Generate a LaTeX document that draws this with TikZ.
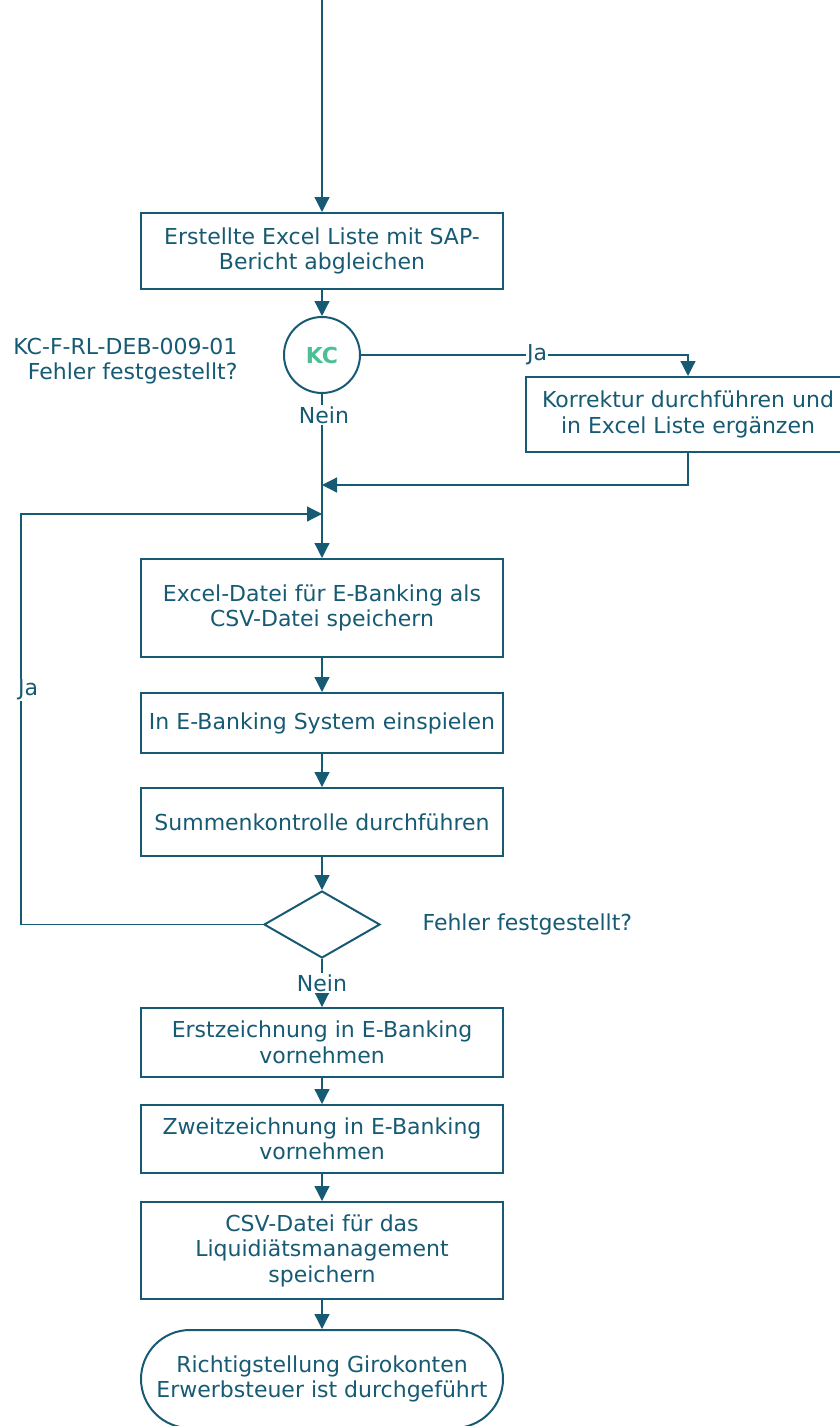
\documentclass[tikz,border=0pt]{standalone}
\usepackage{fontspec}
\setmainfont{DejaVu Sans}
\usetikzlibrary{arrows.meta,shapes.geometric}
\definecolor{ln}{HTML}{165A73}
\definecolor{kcg}{HTML}{4CBF94}
\tikzset{
  every node/.style={text=ln, font=\fontsize{22}{25.5}\selectfont},
  stepbox/.style={draw=ln, line width=2pt, minimum width=362pt, align=center, inner sep=0pt},
  conn/.style={draw=ln, line width=1.2pt},
  arr/.style={conn, -{Triangle[width=15pt,length=15pt]}},
  lbl/.style={fill=white, inner sep=1pt},
}
\begin{document}
\begin{tikzpicture}[x=1pt,y=-1pt]
\useasboundingbox (0,0) rectangle (840,1426);

\coordinate (top) at (322,0);
\node[stepbox, minimum height=76pt] (b1) at (322,251) {Erstellte Excel Liste mit SAP-\\Bericht abgleichen};
\node[draw=ln, line width=2pt, circle, minimum size=76pt, inner sep=0pt, text=kcg, font=\fontsize{22}{25}\selectfont\bfseries] (kc) at (322,355) {KC};
\node[align=right, anchor=east] (kclbl) at (241,361) {KC-F-RL-DEB-009-01\\Fehler festgestellt?};
\node[stepbox, minimum width=324pt, minimum height=75pt] (korr) at (688,414.5) {Korrektur durchführen und\\in Excel Liste ergänzen};
\coordinate (m1) at (322,485);
\coordinate (m2) at (322,514);
\coordinate (lp) at (21,514);
\node[stepbox, minimum height=98pt] (b3) at (322,608) {Excel-Datei für E-Banking als\\CSV-Datei speichern};
\node[stepbox, minimum height=60pt] (b4) at (322,723) {In E-Banking System einspielen};
\node[stepbox, minimum height=68pt] (b5) at (322,822) {Summenkontrolle durchführen};
\node[draw=ln, line width=2pt, diamond, minimum width=116pt, minimum height=67pt, inner sep=0pt] (dia) at (322,924.5) {};
\node[anchor=west] (dialbl) at (419,924) {Fehler festgestellt?};
\node[stepbox, minimum height=69pt] (b6) at (322,1042.5) {Erstzeichnung in E-Banking\\vornehmen};
\node[stepbox, minimum height=68pt] (b7) at (322,1139) {Zweitzeichnung in E-Banking\\vornehmen};
\node[stepbox, minimum height=97pt] (b8) at (322,1250.5) {CSV-Datei für das\\Liquidiätsmanagement\\speichern};
\node[stepbox, minimum height=98pt, rounded corners=49pt] (term) at (322,1379) {Richtigstellung Girokonten\\Erwerbsteuer ist durchgeführt};

\draw[arr] (top) -- (b1);
\draw[arr] (b1) -- (kc);
\draw[arr] (kc.east) -| (korr.north);
\node[lbl] (ja1) at (537,355) {Ja};
\draw[arr] (korr.south) |- (m1);
\draw[arr] (kc.south) -- (b3.north);
\node[lbl] (nein1) at (324,415) {Nein};
\draw[arr] (dia.west) -| (lp) -- (m2);
\node[lbl] (ja2) at (28,690) {Ja};
\draw[arr] (b3) -- (b4);
\draw[arr] (b4) -- (b5);
\draw[arr] (b5) -- (dia);
\draw[arr] (dia) -- (b6);
\node[lbl] (nein2) at (322,983) {Nein};
\draw[arr] (b6) -- (b7);
\draw[arr] (b7) -- (b8);
\draw[arr] (b8) -- (term);
\end{tikzpicture}
\end{document}
